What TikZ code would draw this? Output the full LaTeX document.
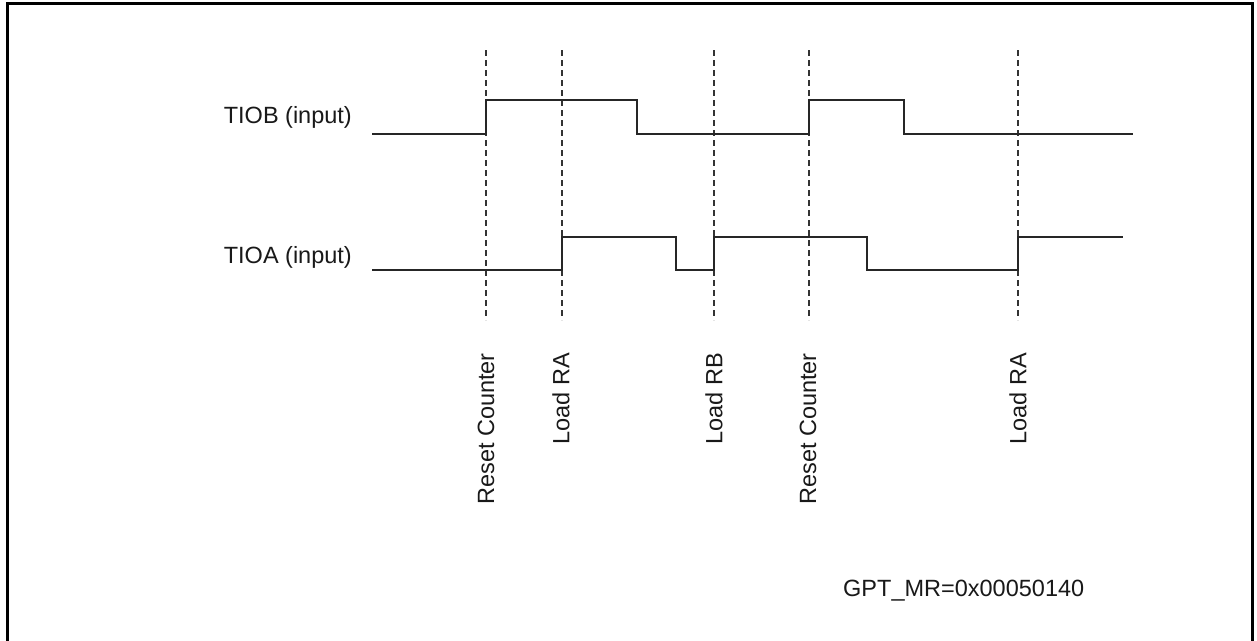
\documentclass[tikz,border=0pt]{standalone}
\usepackage{fontspec}
\setmainfont{Liberation Sans}
\begin{document}
\begin{tikzpicture}[x=1pt,y=-1pt,
  sig/.style={line width=2.2pt,black!85,line join=miter},
  marker/.style={line width=2pt,black!80,dash pattern=on 6pt off 4pt},
  lbl/.style={inner sep=0pt,font=\fontsize{23.5}{28}\selectfont,text=black!90},
  vlbl/.style={lbl,rotate=90,anchor=east}]
\useasboundingbox (0,0) rectangle (1257,640);
\fill[white] (0,0) rectangle (1257,640);
% frame
\draw[line width=3pt,black] (7,650) -- (7,3) -- (1252,3) -- (1252,650);
% signal labels
\node[lbl,anchor=east] (tiob) at (352,117) {TIOB (input)};
\node[lbl,anchor=east] (tioa) at (352,257) {TIOA (input)};
% dashed markers
\foreach \x/\n in {486/m1,562/m2,714/m3,809/m4,1018/m5}{
  \coordinate (\n t) at (\x,50);
  \coordinate (\n b) at (\x,320);
  \draw[marker] (\n t) -- (\n b);
}
% TIOB waveform
\draw[sig] (372,134) -- (486,134) -- (486,100) -- (637,100) -- (637,134)
  -- (809,134) -- (809,100) -- (904,100) -- (904,134) -- (1133,134);
% TIOA waveform
\draw[sig] (372,270) -- (562,270) -- (562,237) -- (676,237) -- (676,270)
  -- (714,270) -- (714,237) -- (867,237) -- (867,270) -- (1018,270)
  -- (1018,237) -- (1123,237);
% event labels
\node[vlbl] (e1) at (486,353) {Reset Counter};
\node[vlbl] (e2) at (561,353) {Load RA};
\node[vlbl] (e3) at (714,353) {Load RB};
\node[vlbl] (e4) at (808,353) {Reset Counter};
\node[vlbl] (e5) at (1018,353) {Load RA};
% register value
\node[lbl,anchor=west] (mr) at (843,591) {GPT\_MR=0x00050140};
\end{tikzpicture}
\end{document}
